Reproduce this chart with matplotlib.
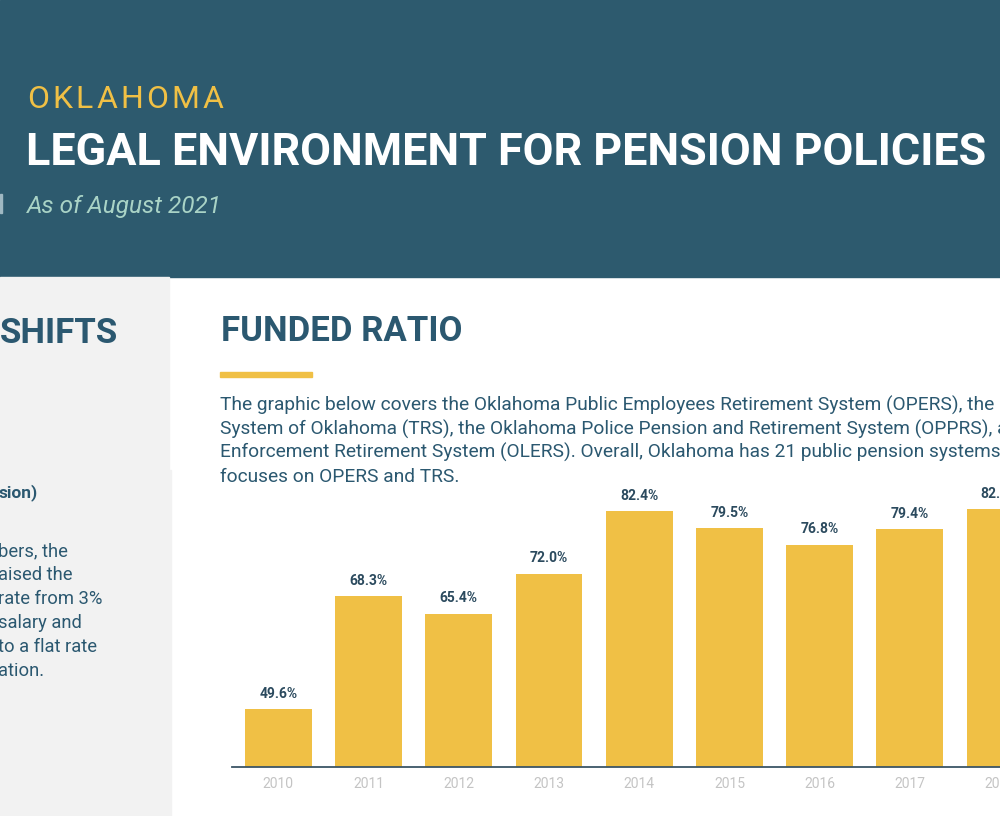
import matplotlib.pyplot as plt
from matplotlib.patches import Rectangle

# funded ratio data (the last bar is cut off by the page edge)
years = ['2010', '2011', '2012', '2013', '2014', '2015', '2016', '2017', '2018']
funded = [49.6, 68.3, 65.4, 72.0, 82.4, 79.5, 76.8, 79.4, 82.7]

intro_lines = [
    "The graphic below covers the Oklahoma Public Employees Retirement System (OPERS), the",
    "System of Oklahoma (TRS), the Oklahoma Police Pension and Retirement System (OPPRS), a",
    "Enforcement Retirement System (OLERS). Overall, Oklahoma has 21 public pension systems",
    "focuses on OPERS and TRS.",
]
side_lines = ["bers, the", "aised the", "rate from 3%", "salary and", "to a flat rate", "ation."]

NAVY = '#2d5a6e'
TEXT = '#2b5870'
YELLOW = '#f0c045'
W, H = 1000, 816

plt.rcParams['font.family'] = ['Roboto', 'DejaVu Sans']

fig = plt.figure(figsize=(10, 8.16), dpi=100)
fig.patch.set_facecolor('white')


def px(x, y):
    return x / W, 1 - y / H


def box(x0, y0, x1, y1, color):
    fig.patches.append(Rectangle(px(x0, y1), (x1 - x0) / W, (y1 - y0) / H,
                                 transform=fig.transFigure, color=color, zorder=0))


# header band and grey side panel
box(0, 0, W, 277, NAVY)
box(0, 277, 169, 470, '#f2f2f2')
box(0, 470, 171, H, '#f2f2f2')
box(0, 194, 2, 213, '#9fb8c2')

# letter-spaced state name
renderer = fig.canvas.get_renderer()
x = 27
for ch in 'OKLAHOMA':
    t = fig.text(*px(x, 108), ch, fontsize=23, color=YELLOW, va='baseline')
    x += t.get_window_extent(renderer).width + 3.3

fig.text(*px(26, 165), 'LEGAL ENVIRONMENT FOR PENSION POLICIES', fontsize=32.3,
         fontweight='bold', color='white', va='baseline')
fig.text(*px(27, 213), 'As of August 2021', fontsize=17.6, style='italic',
         color='#a9d3c6', va='baseline')

# left column fragments
fig.text(*px(0, 343), 'SHIFTS', fontsize=25, fontweight='bold', color=TEXT,
         va='baseline')
fig.text(*px(38, 497), 'sion)', fontsize=12.5, fontweight='bold', color=TEXT,
         ha='right', va='baseline')
for i, line in enumerate(side_lines):
    fig.text(*px(-2, 556 + 24 * i), line, fontsize=13.2, color=TEXT, va='baseline')

# section heading
fig.text(*px(221, 341), 'FUNDED RATIO', fontsize=25, fontweight='bold', color=TEXT,
         va='baseline')
box(220, 372, 312, 377, YELLOW)
for i, line in enumerate(intro_lines):
    fig.text(*px(220, 411 + 23.5 * i), line, fontsize=13.8, color=TEXT, va='baseline')

# bar chart
ax_left, ax_base, ax_top = 232, 767, 465
ax = fig.add_axes([ax_left / W, (H - ax_base) / H, (W - ax_left) / W,
                   (ax_base - ax_top) / H])
pos = list(range(len(years)))
bars = ax.bar(pos, funded, width=0.74, color=YELLOW, zorder=2)
ax.set_ylim(40, 40 + (ax_base - ax_top) / 6.04)
ax.set_xlim(-0.514, 7.88)
for b, v in zip(bars, funded):
    ax.annotate(f'{v:.1f}%', (b.get_x() + b.get_width() / 2, v),
                xytext=(0, 6), textcoords='offset points', ha='center', va='bottom',
                fontsize=10, fontweight='bold', color='#2b4a5e')
ax.set_xticks(pos)
ax.set_xticklabels(years, fontsize=10, color='#c4c4c4')
ax.tick_params(axis='x', length=0, pad=7)
ax.set_yticks([])
for s in ['top', 'right', 'left']:
    ax.spines[s].set_visible(False)
ax.spines['bottom'].set_color('#3c5566')
ax.spines['bottom'].set_linewidth(1.3)
ax.patch.set_alpha(0)

fig.savefig('out.png', dpi=100)
